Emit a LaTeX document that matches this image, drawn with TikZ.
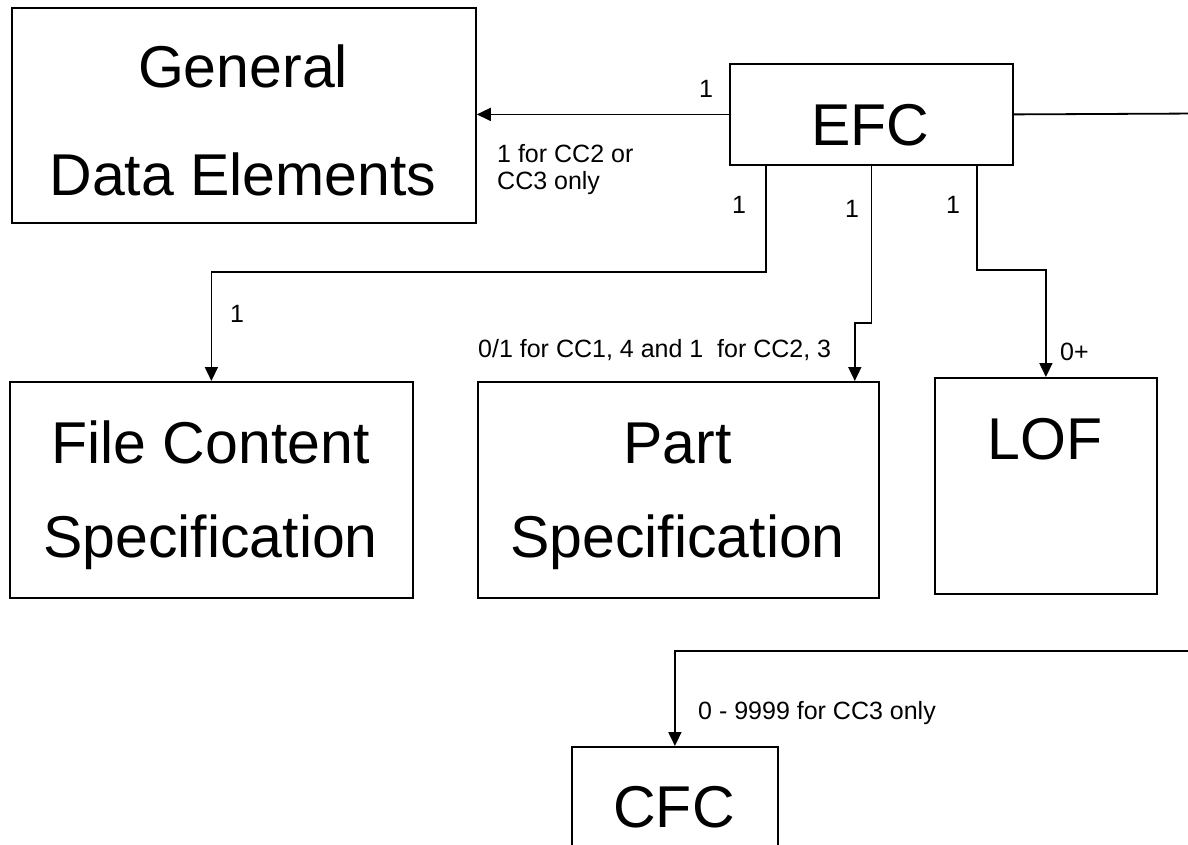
\documentclass[tikz,border=0pt]{standalone}
\usepackage{fontspec}
\setmainfont{Liberation Sans}
\usetikzlibrary{arrows.meta,calc}
\begin{document}
\begin{tikzpicture}[x=1bp,y=-1bp,
  box/.style={draw,line width=1.8bp,inner sep=0pt,anchor=north west},
  big/.style={inner sep=0pt,anchor=base,font=\fontsize{59bp}{59bp}\selectfont},
  small/.style={inner sep=0pt,anchor=base,font=\fontsize{25bp}{27bp}\selectfont},
  smallw/.style={small,anchor=base west},
  wire/.style={line width=1.8bp},
  arr/.style={wire,-{Triangle[length=14bp,width=13bp]}}]
\useasboundingbox (0,0) rectangle (1188,845);
\clip (0,0) rectangle (1188,845);

% entity boxes
\node[box,minimum width=464bp,minimum height=215bp] (gde)  at (11,7)    {};
\node[box,minimum width=283bp,minimum height=101bp] (efc)  at (729,63)  {};
\node[box,minimum width=403bp,minimum height=216bp] (fcs)  at (9,381)   {};
\node[box,minimum width=401bp,minimum height=216bp] (part) at (477,381) {};
\node[box,minimum width=222bp,minimum height=216bp] (lof)  at (934,377) {};
\node[box,minimum width=206bp,minimum height=160bp] (cfc)  at (571,746) {};

% box titles
\node[big] (gdeA)  at (243,87)    {General};
\node[big] (gdeB)  at (243,195)   {Data Elements};
\node[big] (efcA)  at (870.5,145) {EFC};
\node[big] (fcsA)  at (210.5,463) {File Content};
\node[big] (fcsB)  at (210.5,557) {Specification};
\node[big] (partA) at (677.5,463) {Part};
\node[big] (partB) at (677.5,557) {Specification};
\node[big] (lofA)  at (1045,459)  {LOF};
\node[big] (cfcA)  at (674,827)   {CFC};

% connector end points
\coordinate (d1) at (766,164);
\coordinate (d3) at (977,164);
\coordinate (t2) at ($(part.north east)+(-25,0)$);
\coordinate (eR) at (1200,113.5);
\coordinate (cR) at (1200,651);

% connectors
\draw[arr] (efc.west) -- (efc.west -| gde.east);
\draw[wire] (efc.east) -- (eR);
\draw[arr] (d1) -- ++(0,108) -| (fcs.north);
\draw[arr] (efc.south) -- ++(0,157) -| (t2);
\draw[arr] (d3) -- ++(0,106) -| (lof.north);
\draw[arr] (cR) -| (cfc.north);

% multiplicities
\node[small]  (m1)  at (706,97)  {1};
\node[smallw] (m2a) at (497,162) {1 for CC2 or};
\node[smallw] (m2b) at (497,189) {CC3 only};
\node[small]  (m3)  at (739,213) {1};
\node[small]  (m4)  at (852,217) {1};
\node[small]  (m5)  at (953,213) {1};
\node[small]  (m6)  at (237,322) {1};
\node[smallw] (m7)  at (478,357) {0/1 for CC1, 4 and 1\ \ for CC2, 3};
\node[smallw] (m8)  at (1060,360) {0+};
\node[smallw] (m9)  at (698,719) {0 - 9999 for CC3 only};
\end{tikzpicture}
\end{document}
